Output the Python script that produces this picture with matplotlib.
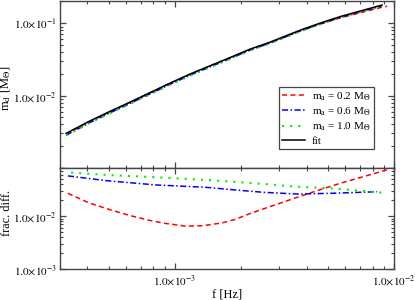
import numpy as np
import matplotlib
matplotlib.use("Agg")
import matplotlib.pyplot as plt
from matplotlib.ticker import LogLocator, FuncFormatter, NullFormatter

plt.rcParams["font.family"] = ["Liberation Serif", "DejaVu Serif"]
plt.rcParams["mathtext.fontset"] = "stix"

# ── данные ────────────────────────────────────────────────────────────────
# верхняя панель: m_d(f)
f_top = [3.2e-4, 4.06e-4, 5.01e-4, 6.18e-4, 7.62e-4, 9.39e-4, 1.18e-3, 1.46e-3,
         1.80e-3, 2.21e-3, 2.73e-3, 3.74e-3, 4.61e-3, 5.69e-3, 7.0e-3, 8.81e-3]
m_fit = [3.01e-3, 4.40e-3, 5.96e-3, 8.0e-3, 1.08e-2, 1.46e-2, 2.0e-2, 2.61e-2,
         3.39e-2, 4.40e-2, 5.51e-2, 8.05e-2, 0.1007, 0.124, 0.1475, 0.1787]
f_top_red = f_top + [9.3e-3]
m_red = [2.93e-3, 4.32e-3, 5.88e-3, 7.92e-3, 1.071e-2, 1.45e-2, 1.987e-2, 2.592e-2,
         3.36e-2, 4.35e-2, 5.43e-2, 7.86e-2, 0.0976, 0.1189, 0.1397, 0.1667, 0.172]
m_blue = [2.84e-3, 4.18e-3, 5.69e-3, 7.66e-3, 1.038e-2, 1.406e-2, 1.929e-2, 2.521e-2,
          3.283e-2, 4.27e-2, 5.36e-2, 7.84e-2, 0.0980, 0.1207, 0.1434, 0.1735]
m_green = [2.81e-3, 4.13e-3, 5.61e-3, 7.55e-3, 1.022e-2, 1.384e-2, 1.90e-2, 2.486e-2,
           3.239e-2, 4.215e-2, 5.29e-2, 7.76e-2, 0.0972, 0.12, 0.1431, 0.1738]

# нижняя панель: относительная разница
f_red = [3.26e-4, 4.06e-4, 5.01e-4, 6.18e-4, 7.62e-4, 9.1e-4, 1.12e-3, 1.34e-3, 1.65e-3,
         1.89e-3, 2.21e-3, 2.82e-3, 3.61e-3, 4.45e-3, 5.69e-3, 7.26e-3, 9.27e-3]
d_red = [0.0268, 0.0178, 0.0134, 0.0104, 0.0084, 0.0073, 0.0065, 0.0066, 0.0075,
         0.0087, 0.01125, 0.0159, 0.0225, 0.030, 0.0414, 0.0552, 0.0738]
f_blue = [3.26e-4, 4.85e-4, 8.2e-4, 1.38e-3, 1.89e-3, 2.54e-3, 3.62e-3, 5.12e-3, 8.37e-3]
d_blue = [0.0569, 0.0464, 0.0385, 0.0348, 0.031, 0.028, 0.026, 0.0268, 0.0287]
f_green = [3.37e-4, 4.85e-4, 8.2e-4, 1.38e-3, 1.84e-3, 2.54e-3, 3.62e-3, 5.12e-3, 7.0e-3, 8.81e-3]
d_green = [0.0656, 0.0594, 0.0537, 0.0478, 0.0442, 0.0402, 0.0357, 0.0333, 0.030, 0.0275]

labels = [r"m$_\mathrm{a}$ = 0.2 M$_\Theta$", r"m$_\mathrm{a}$ = 0.6 M$_\Theta$",
          r"m$_\mathrm{a}$ = 1.0 M$_\Theta$", "fit"]

# ── стили ────────────────────────────────────────────────────────────────
RED = dict(color="#ff0000", lw=1.1, dashes=(3.3, 2.2))
BLUE = dict(color="#0000ff", lw=1.1, dashes=(4.0, 1.6, 1.0, 1.6))
GREEN = dict(color="#00ee00", lw=1.5, dashes=(1.0, 2.9))
BLACK = dict(color="black", lw=1.1)


def sci(shown):
    def fmt(v, pos):
        e = int(round(np.log10(v)))
        if e not in shown:
            return ""
        return r"$1.0{\times}10^{%d}$" % e
    return FuncFormatter(fmt)


fig = plt.figure(figsize=(4.15, 3.0), dpi=100)
ax1 = fig.add_axes([0.1446, 0.44, 0.805, 0.555])
ax2 = fig.add_axes([0.1446, 0.1017, 0.805, 0.3383])

ax1.plot(f_top_red, m_red, **RED, label=labels[0])
ax1.plot(f_top, m_blue, **BLUE, label=labels[1])
ax1.plot(f_top, m_green, **GREEN, label=labels[2])
ax1.plot(f_top, m_fit, **BLACK, label=labels[3])

ax2.plot(f_red, d_red, **RED)
ax2.plot(f_blue, d_blue, **BLUE)
ax2.plot(f_green, d_green, **GREEN)

for ax in (ax1, ax2):
    ax.set_xscale("log")
    ax.set_yscale("log")
    ax.set_xlim(3e-4, 1e-2)
    ax.xaxis.set_minor_locator(LogLocator(base=10, subs=np.arange(2, 10)))
    ax.yaxis.set_minor_locator(LogLocator(base=10, subs=np.arange(2, 10)))
    ax.xaxis.set_minor_formatter(NullFormatter())
    ax.yaxis.set_minor_formatter(NullFormatter())
    ax.tick_params(which="both", direction="in", top=True, right=True,
                   labelsize=8, colors="#444444", labelcolor="black")
    ax.tick_params(which="major", length=4.5, width=0.9, pad=2.5)
    ax.tick_params(which="minor", length=2.5, width=0.8)
    for s in ax.spines.values():
        s.set_color("#444444")
        s.set_linewidth(1.0)

ax1.set_ylim(1e-3, 0.2)
ax2.set_ylim(1e-3, 0.08)
ax1.xaxis.set_major_formatter(NullFormatter())
ax1.yaxis.set_major_formatter(sci({-1, -2}))
ax2.yaxis.set_major_formatter(sci({-2, -3}))
ax2.xaxis.set_major_formatter(sci({-3, -2}))

ax1.set_ylabel(r"m$_\mathrm{d}$ [M$_\Theta$]", fontsize=9)
ax2.set_ylabel("frac. diff.", fontsize=8.8)
ax1.yaxis.set_label_coords(-0.14, 0.48)
ax2.yaxis.set_label_coords(-0.14, 0.56)
ax2.set_xlabel("f [Hz]", fontsize=9)
ax2.xaxis.set_label_coords(0.5, -0.19)

leg = ax1.legend(loc="lower right", bbox_to_anchor=(0.94, 0.114), borderaxespad=0,
                 fontsize=8, fancybox=False, framealpha=1, edgecolor="#444444",
                 handlelength=2.1, handletextpad=0.6, labelspacing=0.25,
                 borderpad=0.3)
leg.get_frame().set_linewidth(0.9)

fig.savefig("out.png", dpi=100)
